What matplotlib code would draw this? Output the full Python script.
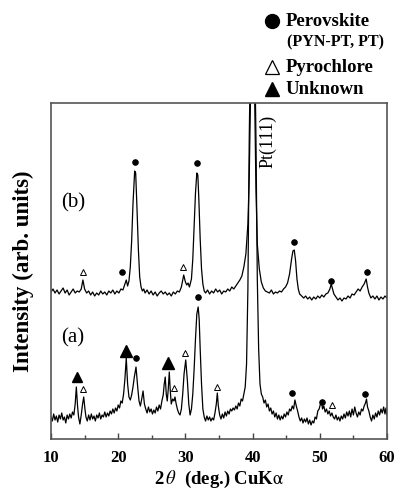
import matplotlib
matplotlib.use("Agg")
import matplotlib.pyplot as plt
from matplotlib.lines import Line2D
from matplotlib.ticker import MultipleLocator

plt.rcParams['font.family'] = ['Liberation Serif', 'DejaVu Serif']
plt.rcParams['mathtext.fontset'] = 'stix'

# ---------------- data (2theta in degrees, intensity in arbitrary units) ----------------
two_theta_b = [10.0, 10.3, 10.6, 10.9, 11.2, 11.5, 11.8, 12.1, 12.4, 12.7, 13.0, 13.3, 13.6, 13.9,
               14.2, 14.5, 14.75, 15.0, 15.3, 15.6, 15.9, 16.2, 16.5, 16.8, 17.1, 17.4, 17.7, 18.0,
               18.3, 18.6, 18.9, 19.2, 19.5, 19.8, 20.1, 20.4, 20.7, 21.0, 21.2, 21.4, 21.6, 21.8,
               22.0, 22.2, 22.45, 22.6, 22.8, 23.0, 23.2, 23.4, 23.6, 23.8, 24.0, 24.3, 24.6, 24.9,
               25.2, 25.5, 25.8, 26.1, 26.4, 26.7, 27.0, 27.3, 27.6, 27.9, 28.2, 28.5, 28.8, 29.1,
               29.4, 29.75, 30.0, 30.2, 30.4, 30.6, 30.9, 31.1, 31.3, 31.5, 31.7, 31.85, 32.0, 32.2,
               32.4, 32.6, 32.8, 33.0, 33.3, 33.6, 33.9, 34.2, 34.5, 34.8, 35.1, 35.4, 35.7, 36.0,
               36.3, 36.6, 36.9, 37.2, 37.5, 37.8, 38.1, 38.4, 38.7, 39.0, 39.3, 39.5, 39.7, 39.9,
               40.1, 40.3, 40.5, 40.7, 41.0, 41.3, 41.6, 41.9, 42.2, 42.5, 42.8, 43.1, 43.4, 43.7,
               44.0, 44.3, 44.6, 44.9, 45.2, 45.5, 45.8, 46.0, 46.2, 46.4, 46.6, 46.8, 47.0, 47.3,
               47.6, 47.9, 48.2, 48.5, 48.8, 49.1, 49.4, 49.7, 50.0, 50.3, 50.6, 50.9, 51.2, 51.5,
               51.7, 51.9, 52.1, 52.4, 52.7, 53.0, 53.3, 53.6, 53.9, 54.2, 54.5, 54.8, 55.1, 55.4,
               55.7, 56.0, 56.3, 56.6, 56.9, 57.1, 57.3, 57.6, 57.9, 58.2, 58.5, 58.8, 59.1, 59.4,
               59.7, 60.0]
intensity_b = [147, 150, 146, 149, 145, 148, 151, 146, 149, 144, 147, 150, 146, 148,
               147, 150, 159, 150, 146, 148, 144, 147, 143, 146, 144, 148, 145, 147,
               144, 148, 146, 149, 145, 148, 146, 150, 149, 155, 159, 153, 158, 172,
               198, 235, 268, 266, 230, 190, 162, 152, 148, 150, 146, 149, 145, 148,
               144, 147, 143, 146, 148, 145, 147, 144, 146, 143, 147, 145, 148, 147,
               152, 164, 157, 154, 156, 152, 160, 180, 212, 246, 266, 264, 240, 200,
               170, 155, 148, 146, 149, 145, 148, 146, 150, 147, 149, 145, 148, 147,
               150, 148, 152, 150, 153, 156, 159, 163, 172, 185, 215, 262, 345, 400,
               400, 345, 250, 195, 170, 157, 151, 148, 147, 146, 149, 145, 147, 146,
               148, 147, 150, 152, 156, 165, 180, 188, 189, 178, 160, 150, 145, 143,
               141, 143, 140, 142, 139, 142, 140, 143, 141, 144, 142, 145, 146, 150,
               155, 150, 145, 142, 139, 141, 138, 141, 140, 143, 141, 145, 144, 147,
               150, 148, 152, 155, 160, 152, 146, 141, 143, 140, 143, 139, 142, 140,
               143, 141]

two_theta_a = [10.0, 10.2, 10.4, 10.6, 10.8, 11.0, 11.2, 11.4, 11.6, 11.8, 12.0, 12.2, 12.4, 12.6,
               12.8, 13.0, 13.2, 13.4, 13.6, 13.77, 13.95, 14.1, 14.3, 14.5, 14.7, 14.87, 15.05,
               15.2, 15.4, 15.6, 15.8, 16.0, 16.2, 16.4, 16.6, 16.8, 17.0, 17.2, 17.4, 17.6, 17.8,
               18.0, 18.2, 18.4, 18.6, 18.8, 19.0, 19.2, 19.4, 19.6, 19.8, 20.0, 20.2, 20.4, 20.6,
               20.8, 21.0, 21.2, 21.4, 21.6, 21.8, 22.0, 22.2, 22.4, 22.65, 22.9, 23.1, 23.3, 23.5,
               23.7, 23.9, 24.1, 24.3, 24.5, 24.7, 24.9, 25.1, 25.3, 25.5, 25.7, 25.9, 26.1, 26.3,
               26.5, 26.7, 26.85, 27.0, 27.15, 27.3, 27.45, 27.6, 27.75, 27.9, 28.1, 28.3, 28.45,
               28.6, 28.8, 29.0, 29.2, 29.4, 29.6, 29.8, 30.05, 30.3, 30.5, 30.7, 30.9, 31.1, 31.3,
               31.5, 31.7, 31.9, 32.05, 32.2, 32.4, 32.6, 32.8, 33.0, 33.2, 33.4, 33.6, 33.8, 34.0,
               34.2, 34.4, 34.6, 34.75, 34.9, 35.1, 35.3, 35.5, 35.7, 35.9, 36.1, 36.3, 36.5, 36.7,
               36.9, 37.1, 37.3, 37.5, 37.7, 37.9, 38.1, 38.3, 38.5, 38.7, 38.9, 39.1, 39.3, 39.5,
               39.7, 40.3, 40.5, 40.7, 40.9, 41.1, 41.3, 41.5, 41.7, 41.9, 42.1, 42.3, 42.5, 42.7,
               42.9, 43.1, 43.3, 43.5, 43.7, 43.9, 44.1, 44.3, 44.5, 44.7, 44.9, 45.1, 45.3, 45.5,
               45.7, 45.9, 46.1, 46.3, 46.5, 46.7, 46.9, 47.1, 47.3, 47.5, 47.7, 47.9, 48.1, 48.3,
               48.5, 48.7, 48.9, 49.1, 49.3, 49.5, 49.7, 49.9, 50.1, 50.25, 50.4, 50.6, 50.8, 51.0,
               51.2, 51.4, 51.6, 51.8, 52.0, 52.2, 52.4, 52.6, 52.8, 53.0, 53.2, 53.4, 53.6, 53.8,
               54.0, 54.2, 54.4, 54.6, 54.8, 55.0, 55.2, 55.4, 55.6, 55.8, 56.0, 56.2, 56.4, 56.6,
               56.8, 56.95, 57.1, 57.3, 57.5, 57.7, 57.9, 58.1, 58.3, 58.5, 58.7, 58.9, 59.1, 59.3,
               59.5, 59.7, 59.85, 60.0]
intensity_a = [22, 18, 25, 19, 23, 17, 24, 20, 26, 19, 22, 16, 24, 20,
               25, 21, 27, 24, 35, 52, 33, 22, 15, 24, 35, 42, 30,
               22, 18, 24, 19, 25, 20, 23, 18, 24, 21, 26, 20, 24, 22,
               27, 22, 26, 23, 28, 25, 30, 26, 31, 28, 34, 31, 38, 36,
               45, 60, 81, 55, 42, 39, 44, 52, 62, 72, 52, 38, 33, 40,
               48, 35, 30, 26, 32, 27, 30, 25, 29, 26, 32, 28, 34, 30,
               38, 44, 55, 62, 45, 38, 50, 67, 48, 35, 40, 38, 42,
               36, 30, 26, 24, 30, 45, 65, 79, 58, 35, 24, 30, 45, 70,
               100, 125, 132, 120, 90, 55, 30, 22, 18, 23, 19, 22, 18, 21,
               19, 26, 35, 46, 33, 24, 20, 25, 21, 27, 23, 28, 25, 30,
               28, 31, 29, 33, 30, 36, 33, 40, 38, 45, 52, 75, 150, 300,
               400, 400, 300, 160, 90, 55, 45, 42, 36, 39, 32, 35, 28, 31,
               25, 28, 22, 26, 20, 24, 19, 23, 20, 25, 22, 27, 24, 30,
               28, 33, 30, 39, 33, 28, 22, 18, 21, 16, 20, 17, 21, 15,
               19, 14, 18, 16, 22, 20, 28, 30, 35, 38, 30, 33, 27, 30,
               25, 28, 23, 26, 22, 20, 24, 19, 22, 18, 23, 20, 25, 21,
               27, 23, 28, 22, 30, 24, 32, 26, 22, 27, 24, 30, 28, 33,
               36, 40, 32, 28, 22, 18, 24, 20, 26, 22, 28, 24, 30, 26,
               32, 25, 31, 24]

# peak assignments: (2theta, marker height)
perovskite_b = [(20.5, 167), (22.55, 277), (31.8, 276), (46.2, 197), (51.6, 158), (57.05, 167)]
pyrochlore_b = [(14.75, 167), (29.7, 172)]
perovskite_a = [(22.6, 81), (31.9, 142), (45.9, 46), (50.3, 37), (56.8, 45)]
pyrochlore_a = [(14.7, 50), (28.35, 51), (29.95, 86), (34.7, 52), (51.8, 34)]
unknown_a = [(13.8, 62), (21.2, 88), (27.35, 76)]

xticks = [10, 20, 30, 40, 50, 60]
sample_labels = ["(b)", "(a)"]
legend_labels = ["Perovskite", "(PYN-PT, PT)", "Pyrochlore", "Unknown"]

# ---------------- figure ----------------
fig = plt.figure(figsize=(4.0, 4.9), dpi=100)
ax = fig.add_axes([51 / 400, 1 - 439 / 490, 336 / 400, 336 / 490])

ax.plot(two_theta_b, intensity_b, color='black', lw=0.9)
ax.plot(two_theta_a, intensity_a, color='black', lw=0.9)

def mark(points, marker, size, filled):
    xs = [p[0] for p in points]
    ys = [p[1] for p in points]
    ax.plot(xs, ys, ls='none', marker=marker, ms=size,
            mfc='black' if filled else 'white', mec='black', mew=0.7)

mark(perovskite_b, 'o', 4, True)
mark(pyrochlore_b, '^', 4.5, False)
mark(perovskite_a, 'o', 4, True)
mark(pyrochlore_a, '^', 4.5, False)
ax.plot([unknown_a[0][0]], [unknown_a[0][1]], ls='none', marker='^', ms=7, color='black')
ax.plot([p[0] for p in unknown_a[1:]], [p[1] for p in unknown_a[1:]], ls='none',
        marker='^', ms=9, color='black')

ax.set_xlim(10, 60)
ax.set_ylim(0, 336)
ax.set_yticks([])
ax.xaxis.set_major_locator(MultipleLocator(10))
ax.xaxis.set_minor_locator(MultipleLocator(5))
ax.set_xticks(xticks)
ax.set_xticklabels([str(t) for t in xticks], fontsize=12, fontweight='bold')
ax.tick_params(axis='x', which='major', direction='in', length=4, width=1, color='#444444', pad=8)
ax.tick_params(axis='x', which='minor', direction='in', length=3, width=1, color='#444444')
ax.tick_params(axis='x', which='both', top=False)
for s in ax.spines.values():
    s.set_color('#555555')
    s.set_linewidth(1.2)

ax.set_xlabel(r"2$\,\theta$  (deg.) CuK$\mathrm{\alpha}$", fontsize=13.5, fontweight='bold', labelpad=2)
ax.set_ylabel("Intensity (arb. units)", fontsize=16.5, fontweight='bold', labelpad=12)

ax.text(13.3, 236, sample_labels[0], fontsize=15, ha='center', va='center')
ax.text(13.3, 101, sample_labels[1], fontsize=15, ha='center', va='center')
ax.text(42.3, 298, "Pt(111)", fontsize=13, rotation=90, ha='center', va='center')

# legend (outside axes, top right)
def fx(px):
    return px / 400
def fy(py):
    return 1 - py / 490

fig.add_artist(Line2D([fx(272)], [fy(21)], marker='o', ms=10, color='black', ls='none'))
fig.add_artist(Line2D([fx(272)], [fy(67)], marker='^', ms=10, mfc='white', mec='black', mew=0.9, ls='none'))
fig.add_artist(Line2D([fx(272)], [fy(89)], marker='^', ms=10, color='black', ls='none'))
fig.text(fx(286), fy(21), legend_labels[0], fontsize=13.5, fontweight='bold', va='center', ha='left')
fig.text(fx(287), fy(42), legend_labels[1], fontsize=11.5, fontweight='bold', va='center', ha='left')
fig.text(fx(286), fy(67), legend_labels[2], fontsize=13.5, fontweight='bold', va='center', ha='left')
fig.text(fx(286), fy(89), legend_labels[3], fontsize=13.5, fontweight='bold', va='center', ha='left')

fig.savefig("out.png", dpi=100)
